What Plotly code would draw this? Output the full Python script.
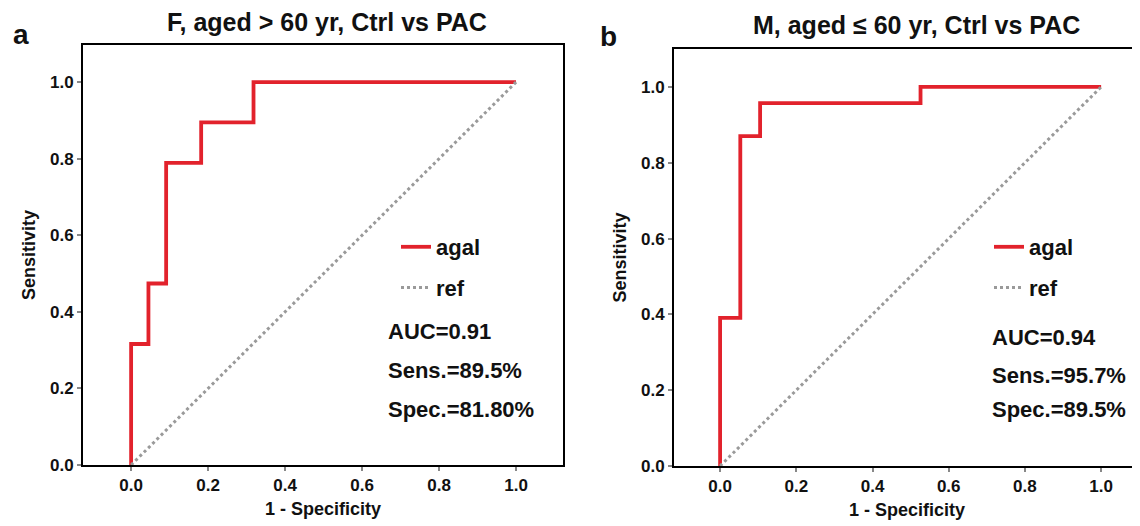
import plotly.graph_objects as go

# Panel a: F, aged > 60 yr
fpr_a = [0, 0, 0.045, 0.091, 0.182, 0.318, 1.0]
tpr_a = [0, 0.316, 0.474, 0.789, 0.895, 1.0, 1.0]
# Panel b: M, aged <= 60 yr
fpr_b = [0, 0, 0.053, 0.105, 0.526, 1.0]
tpr_b = [0, 0.391, 0.870, 0.957, 1.0, 1.0]
ref_xy = [0, 1]

titles = ["F, aged > 60 yr, Ctrl vs PAC", "M, aged \u2264 60 yr, Ctrl vs PAC"]
stats_a = ["AUC=0.91", "Sens.=89.5%", "Spec.=81.80%"]
stats_b = ["AUC=0.94", "Sens.=95.7%", "Spec.=89.5%"]
ticks = [0.0, 0.2, 0.4, 0.6, 0.8, 1.0]

RED = "#e2222c"
GRAY = "#9a9a9a"
FONT = "Liberation Sans, Arial, sans-serif"

# page has an 8px body margin; figure sized to fit the window
OFF = 8
W, H = 1140 - OFF, 526 - OFF


def px(v):
    return (v - OFF) / W


def py(v):
    return 1 - (v - OFF) / H


fig = go.Figure()

for i, (fx, ty, lg) in enumerate([(fpr_a, tpr_a, "legend"), (fpr_b, tpr_b, "legend2")]):
    xa = "x" if i == 0 else "x2"
    ya = "y" if i == 0 else "y2"
    fig.add_trace(go.Scatter(x=fx, y=ty, mode="lines", line=dict(color=RED, width=3.8, shape="hv"),
                             name="agal", legend=lg, legendgroup=f"a{i}", xaxis=xa, yaxis=ya))
    fig.add_trace(go.Scatter(x=ref_xy, y=ref_xy, mode="lines", line=dict(color=GRAY, width=3, dash="dot"),
                             name="ref", legend=lg, legendgroup=f"r{i}", xaxis=xa, yaxis=ya))

axis_common = dict(showline=True, linecolor="black", linewidth=2, ticks="outside", ticklen=4,
                   tickcolor="#888", tickwidth=1.5, showgrid=False, zeroline=False,
                   tickvals=ticks, tickformat=".1f", automargin=False,
                   tickfont=dict(family=FONT, size=17, color="#111", weight="bold"),
                   title_font=dict(family=FONT, size=18, color="#111", weight="bold"))

leg_font = dict(family=FONT, size=22, color="#111", weight="bold")

fig.update_layout(
    width=W, height=H, plot_bgcolor="white", paper_bgcolor="white",
    margin=dict(l=0, r=0, t=0, b=0, autoexpand=False),
    showlegend=True,
    xaxis=dict(domain=[px(83), px(563)], range=[-0.125, 1.122], mirror=True,
               title=dict(text="1 - Specificity", standoff=8), anchor="y", **axis_common),
    yaxis=dict(domain=[py(465), py(45)], range=[0, 1.097], mirror=True,
               title=dict(text="Sensitivity", standoff=10), anchor="x", **axis_common),
    xaxis2=dict(domain=[px(674), 1.0], range=[-0.121, 1.102], mirror=True,
                title=dict(text="1 - Specificity", standoff=8), anchor="y2", **axis_common),
    yaxis2=dict(domain=[py(466), py(49)], range=[0, 1.1], mirror=False,
                title=dict(text="Sensitivity", standoff=10), anchor="x2", **axis_common),
    legend=dict(x=px(396), y=py(226), xanchor="left", yanchor="top", bgcolor="rgba(0,0,0,0)",
                font=leg_font, itemwidth=30, tracegroupgap=9),
    legend2=dict(x=px(989), y=py(226), xanchor="left", yanchor="top", bgcolor="rgba(0,0,0,0)",
                 font=leg_font, itemwidth=30, tracegroupgap=9),
)

ann = []
# titles
ann.append(dict(text=titles[0], x=px(327), y=py(22), xref="paper", yref="paper", showarrow=False,
                xanchor="center", yanchor="middle",
                font=dict(family=FONT, size=25, color="#111", weight="bold")))
ann.append(dict(text=titles[1], x=px(916), y=py(25), xref="paper", yref="paper", showarrow=False,
                xanchor="center", yanchor="middle",
                font=dict(family=FONT, size=25, color="#111", weight="bold")))
# panel letters
ann.append(dict(text="a", x=px(21), y=py(34), xref="paper", yref="paper", showarrow=False,
                xanchor="center", yanchor="middle",
                font=dict(family=FONT, size=28, color="#111", weight="bold")))
ann.append(dict(text="b", x=px(608), y=py(36), xref="paper", yref="paper", showarrow=False,
                xanchor="center", yanchor="middle",
                font=dict(family=FONT, size=28, color="#111", weight="bold")))
# stats
for s, yv in zip(stats_a, [0.35, 0.248, 0.146]):
    ann.append(dict(text=s, x=0.662, y=yv, xref="x", yref="y", xanchor="left", yanchor="middle",
                    showarrow=False, font=leg_font))
for s, yv in zip(stats_b, [0.34, 0.24, 0.148]):
    ann.append(dict(text=s, x=0.709, y=yv, xref="x2", yref="y2", xanchor="left", yanchor="middle",
                    showarrow=False, font=leg_font))
fig.update_layout(annotations=ann)

fig.write_html("out.html")
